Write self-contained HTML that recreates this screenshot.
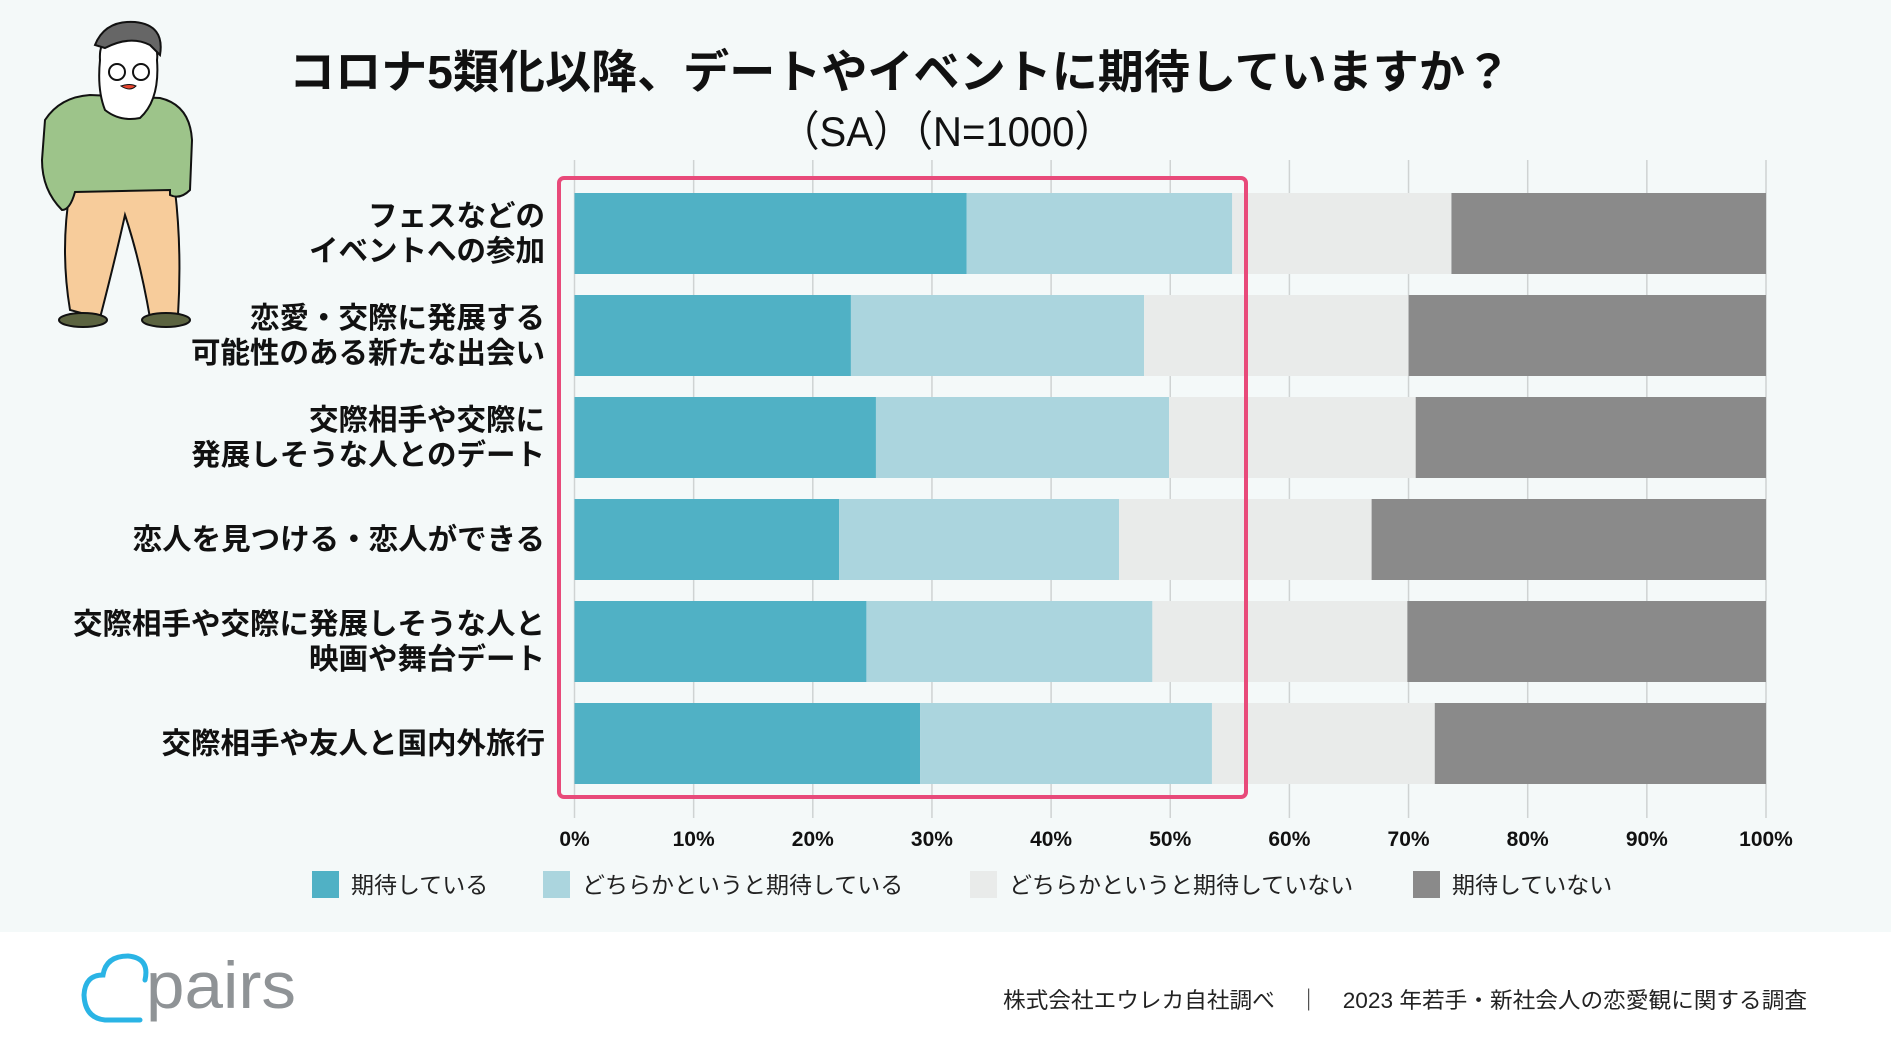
<!DOCTYPE html>
<html><head><meta charset="utf-8"><style>
html,body{margin:0;padding:0;width:1891px;height:1064px;overflow:hidden;background:#fff;}
svg{display:block;font-family:"Liberation Sans","Noto Sans CJK JP",sans-serif;}
</style></head><body>
<svg id="chart" width="1891" height="1064" viewBox="0 0 1891 1064" xmlns="http://www.w3.org/2000/svg">
<rect x="0" y="0" width="1891" height="932" fill="#f4f9f9"/>
<g stroke="#111" stroke-width="2">
 <path d="M70 310 Q60 250 70 190 L175 190 Q182 250 178 315 L150 318 Q140 260 125 215 Q115 260 100 318 Z" fill="#f7cc9b"/>
 <ellipse cx="83" cy="320" rx="24" ry="7" fill="#5b6340"/>
 <ellipse cx="166" cy="320" rx="24" ry="7" fill="#5b6340"/>
 <path d="M45 120 Q60 97 90 95 L160 98 Q190 105 192 140 L190 190 Q180 200 170 195 L170 190 L75 192 Q70 210 62 210 Q42 190 42 160 Z" fill="#9dc48a"/>
 <path d="M100 60 Q98 30 130 38 Q160 36 157 60 Q160 100 140 118 Q120 122 105 110 Q97 90 100 60Z" fill="#fff"/>
 <path d="M95 45 Q105 20 135 22 Q165 25 160 55 L150 45 Q130 35 105 48 Z" fill="#666"/>
 <circle cx="117" cy="72" r="8" fill="none"/><circle cx="141" cy="72" r="8" fill="none"/>
 <path d="M121 86 Q130 83 136 86 Q130 92 121 86Z" fill="#e8442e" stroke-width="1"/>
</g>
<text x="900" y="88" text-anchor="middle" font-size="46" font-weight="bold" fill="#111" textLength="1222" lengthAdjust="spacingAndGlyphs">コロナ5類化以降、デートやイベントに期待していますか？</text>
<text x="947" y="146" text-anchor="middle" font-size="42" fill="#111" textLength="335" lengthAdjust="spacingAndGlyphs">（SA）（N=1000）</text>
<g id="grid"></g>
<g id="bars"></g>
<rect x="559" y="178" width="687" height="619" rx="5" fill="none" stroke="#e84a7a" stroke-width="4"/>
<g id="labels"></g>
<g id="ticks"></g>
<g id="legend"></g>
<g>
 <path d="M145 980 Q150 958 128 956 Q106 956 103 975 Q85 975 84 995 Q85 1018 105 1020 L140 1020" fill="none" stroke="#2ab4e5" stroke-width="5" stroke-linecap="round"/>
 <text x="146" y="1008" font-size="66" fill="#8f9396" textLength="150" lengthAdjust="spacingAndGlyphs">pairs</text>
</g>
<text x="1807" y="1008" text-anchor="end" font-size="22" fill="#222" textLength="804" lengthAdjust="spacingAndGlyphs">株式会社エウレカ自社調べ　｜　2023 年若手・新社会人の恋愛観に関する調査</text>
</svg>
<script>
const categories = [["フェスなどの","イベントへの参加"],["恋愛・交際に発展する","可能性のある新たな出会い"],["交際相手や交際に","発展しそうな人とのデート"],["恋人を見つける・恋人ができる"],["交際相手や交際に発展しそうな人と","映画や舞台デート"],["交際相手や友人と国内外旅行"]];
const seriesNames = ["期待している","どちらかというと期待している","どちらかというと期待していない","期待していない"];
const expect = [32.9,23.2,25.3,22.2,24.5,29.0];
const ratherExpect = [22.3,24.6,24.6,23.5,24.0,24.5];
const ratherNot = [18.4,22.2,20.7,21.2,21.4,18.7];
const notExpect = [26.4,30.0,29.4,33.1,30.1,27.8];
const tickValues = [0,10,20,30,40,50,60,70,80,90,100];
const tickLabels = ["0%","10%","20%","30%","40%","50%","60%","70%","80%","90%","100%"];
const colors = ["#50b1c5","#abd5de","#e9ebea","#8a8a8a"];
const NS="http://www.w3.org/2000/svg";
const X0=574.5,X1=1766,BT=193,BH=81,PITCH=102;
const xs=v=>X0+(X1-X0)*v/100;
const ys=i=>BT+i*PITCH;
function mk(tag,attrs,parent){const e=document.createElementNS(NS,tag);for(const k in attrs)e.setAttribute(k,attrs[k]);parent.appendChild(e);return e;}
const grid=document.getElementById('grid'),bars=document.getElementById('bars'),labels=document.getElementById('labels'),ticks=document.getElementById('ticks'),legend=document.getElementById('legend');
tickValues.forEach((v,i)=>{
 const l=mk('line',{x1:xs(v),x2:xs(v),y1:160,y2:818,stroke:'#cfd3d3','stroke-width':1.5},grid);
 
 
 const t=mk('text',{x:xs(v),y:846,'text-anchor':'middle','font-size':21,'font-weight':'bold',fill:'#111'},ticks);
 t.textContent=tickLabels[i];
 
 
});
const series=[expect,ratherExpect,ratherNot,notExpect];
categories.forEach((c,i)=>{
 let acc=0;
 series.forEach((s,j)=>{
  const r=mk('rect',{x:xs(acc),y:ys(i),width:xs(acc+s[i])-xs(acc),height:BH,fill:colors[j]},bars);
  
  
  acc+=s[i];
 });
 const cy=ys(i)+BH/2;
 const n=c.length;
 c.forEach((line,k)=>{
  const t=mk('text',{x:545,y:cy+10+(k-(n-1)/2)*35,'text-anchor':'end','font-size':29.5,'font-weight':'bold',fill:'#111'},labels);
  t.textContent=line;
  
  
 });
});
const legX=[312,543,970,1413];
seriesNames.forEach((nm,j)=>{
 const g=mk('g',{},legend);
 
 
 mk('rect',{x:legX[j],y:871,width:27,height:27,fill:colors[j]},g);
 const t=mk('text',{x:legX[j]+39,y:893,'font-size':23,fill:'#222'},g);
 t.textContent=nm;
});
</script>
</body></html>
